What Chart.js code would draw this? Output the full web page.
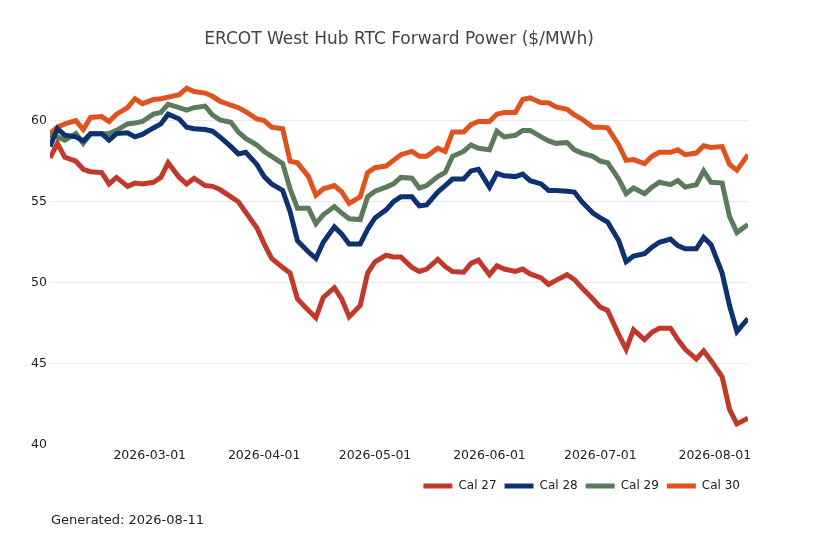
<!DOCTYPE html>
<html>
<head>
<meta charset="utf-8">
<script src="https://cdn.jsdelivr.net/npm/chart.js@4"></script>
<style>
    body { margin: 0; background: #fff; }
    #wrap { width: 818px; height: 545px; position: relative; }
</style>
</head>
<body>
<div id="wrap"><canvas id="forward-chart"></canvas></div>
<script>
// trading days (Mon / Wed / Fri)
var dates = [
    "2026-02-02", "2026-02-04", "2026-02-06", "2026-02-09", "2026-02-11", "2026-02-13",
    "2026-02-16", "2026-02-18", "2026-02-20", "2026-02-23", "2026-02-25", "2026-02-27",
    "2026-03-02", "2026-03-04", "2026-03-06", "2026-03-09", "2026-03-11", "2026-03-13",
    "2026-03-16", "2026-03-18", "2026-03-20", "2026-03-23", "2026-03-25", "2026-03-27",
    "2026-03-30", "2026-04-01", "2026-04-03", "2026-04-06", "2026-04-08", "2026-04-10",
    "2026-04-13", "2026-04-15", "2026-04-17", "2026-04-20", "2026-04-22", "2026-04-24",
    "2026-04-27", "2026-04-29", "2026-05-01", "2026-05-04", "2026-05-06", "2026-05-08",
    "2026-05-11", "2026-05-13", "2026-05-15", "2026-05-18", "2026-05-20", "2026-05-22",
    "2026-05-25", "2026-05-27", "2026-05-29", "2026-06-01", "2026-06-03", "2026-06-05",
    "2026-06-08", "2026-06-10", "2026-06-12", "2026-06-15", "2026-06-17", "2026-06-19",
    "2026-06-22", "2026-06-24", "2026-06-26", "2026-06-29", "2026-07-01", "2026-07-03",
    "2026-07-06", "2026-07-08", "2026-07-10", "2026-07-13", "2026-07-15", "2026-07-17",
    "2026-07-20", "2026-07-22", "2026-07-24", "2026-07-27", "2026-07-29", "2026-07-31",
    "2026-08-03", "2026-08-05", "2026-08-07", "2026-08-10"
];

var cal27 = [
    57.7, 58.6, 57.75, 57.5, 57.0, 56.85, 56.8, 56.1, 56.5, 55.95, 56.15, 56.1,
    56.2, 56.5, 57.4, 56.5, 56.1, 56.45, 56.0, 55.95, 55.75, 55.3, 55.0, 54.35,
    53.4, 52.4, 51.5, 50.95, 50.6, 49.0, 48.3, 47.85, 49.1, 49.7, 49.0, 47.9,
    48.6, 50.6, 51.3, 51.7, 51.6, 51.6, 50.95, 50.7, 50.85, 51.45, 51.0, 50.7,
    50.65, 51.2, 51.4, 50.5, 51.05, 50.85, 50.7, 50.85, 50.55, 50.3, 49.9, 50.15,
    50.5, 50.2, 49.7, 49.0, 48.5, 48.3, 46.8, 45.9, 47.1, 46.5, 46.95, 47.2,
    47.2, 46.5, 45.9, 45.3, 45.8, 45.2, 44.2, 42.2, 41.3, 41.65
];
var cal28 = [
    58.4, 59.5, 59.1, 59.0, 58.75, 59.2, 59.2, 58.8, 59.2, 59.25, 59.0, 59.15,
    59.55, 59.8, 60.4, 60.1, 59.6, 59.5, 59.45, 59.35, 59.0, 58.4, 57.95, 58.05,
    57.3, 56.55, 56.1, 55.7, 54.4, 52.6, 51.9, 51.5, 52.5, 53.45, 53.0, 52.4,
    52.4, 53.3, 54.0, 54.5, 55.0, 55.3, 55.3, 54.75, 54.8, 55.6, 56.0, 56.4,
    56.4, 56.9, 57.0, 55.9, 56.75, 56.6, 56.55, 56.7, 56.3, 56.1, 55.7, 55.7,
    55.65, 55.6, 55.0, 54.3, 54.0, 53.75, 52.6, 51.3, 51.65, 51.8, 52.2, 52.5,
    52.7, 52.3, 52.1, 52.1, 52.8, 52.35, 50.6, 48.6, 47.0, 47.8
];
var cal29 = [
    59.1, 59.0, 58.8, 59.2, 58.6, 59.2, 59.2, 59.2, 59.4, 59.8, 59.85, 59.95,
    60.4, 60.5, 61.0, 60.8, 60.65, 60.8, 60.9, 60.35, 60.05, 59.9, 59.3, 58.9,
    58.5, 58.1, 57.8, 57.35, 55.8, 54.6, 54.6, 53.65, 54.2, 54.7, 54.3, 53.95,
    53.9, 55.3, 55.65, 55.9, 56.1, 56.5, 56.45, 55.85, 56.0, 56.55, 56.8, 57.8,
    58.1, 58.5, 58.3, 58.2, 59.35, 59.0, 59.1, 59.4, 59.4, 59.0, 58.75, 58.6,
    58.65, 58.2, 58.0, 57.8, 57.5, 57.4, 56.4, 55.5, 55.85, 55.5, 55.9, 56.2,
    56.05, 56.3, 55.9, 56.05, 56.9, 56.2, 56.15, 54.1, 53.1, 53.6
];
var cal30 = [
    59.2, 59.6, 59.8, 60.0, 59.45, 60.2, 60.25, 59.95, 60.4, 60.8, 61.35, 61.05,
    61.3, 61.35, 61.45, 61.6, 62.0, 61.8, 61.7, 61.5, 61.2, 60.95, 60.8, 60.55,
    60.1, 60.0, 59.6, 59.5, 57.5, 57.4, 56.55, 55.4, 55.8, 56.0, 55.6, 54.9,
    55.3, 56.8, 57.1, 57.2, 57.55, 57.9, 58.1, 57.8, 57.8, 58.3, 58.1, 59.3,
    59.3, 59.75, 59.95, 59.95, 60.4, 60.5, 60.5, 61.3, 61.4, 61.1, 61.1, 60.85,
    60.7, 60.35, 60.1, 59.6, 59.6, 59.55, 58.5, 57.55, 57.6, 57.35, 57.8, 58.05,
    58.05, 58.2, 57.9, 58.0, 58.45, 58.35, 58.4, 57.3, 56.95, 57.9
];

var seriesNames = ["Cal 27", "Cal 28", "Cal 29", "Cal 30"];
var seriesColors = ["#c0392b", "#0c3271", "#5c7b5a", "#e0531f"];
var tickDates = ["2026-03-01", "2026-04-01", "2026-05-01", "2026-06-01", "2026-07-01", "2026-08-01"];
var chartTitle = "ERCOT West Hub RTC Forward Power ($/MWh)";
var footNote = "Generated: 2026-08-11";

function toPoints(values) {
    return values.map(function (v, i) {
        return { x: Date.parse(dates[i]), y: v };
    });
}

var notesPlugin = {
    id: 'notes',
    afterDraw: function (chart) {
        var ctx = chart.ctx;
        ctx.save();
        ctx.textBaseline = 'middle';
        ctx.fillStyle = '#444';
        ctx.font = '17px "DejaVu Sans"';
        ctx.textAlign = 'center';
        ctx.fillText(chartTitle, 399, 40);
        ctx.fillStyle = '#222';
        ctx.font = '13px "DejaVu Sans"';
        ctx.textAlign = 'left';
        ctx.fillText(footNote, 51, 521);
        ctx.restore();
    }
};

function buildChart() {
    Chart.defaults.font.family = '"DejaVu Sans", sans-serif';
    Chart.defaults.color = '#222';

    var allSeries = [cal27, cal28, cal29, cal30];
    var datasets = allSeries.map(function (values, i) {
        return {
            label: seriesNames[i],
            data: toPoints(values),
            borderColor: seriesColors[i],
            backgroundColor: seriesColors[i],
            borderWidth: 5,
            pointRadius: 0,
            tension: 0,
            fill: false
        };
    });

    var ctx = document.getElementById('forward-chart').getContext('2d');
    new Chart(ctx, {
        type: 'line',
        data: { datasets: datasets },
        plugins: [notesPlugin],
        options: {
            responsive: true,
            maintainAspectRatio: false,
            animation: false,
            layout: { padding: { top: 72, right: 70, bottom: 43, left: 0 } },
            scales: {
                x: {
                    type: 'linear',
                    min: Date.parse(dates[0]),
                    max: Date.parse(dates[dates.length - 1]),
                    grid: { display: false, drawTicks: false },
                    border: { display: false },
                    afterBuildTicks: function (scale) {
                        scale.ticks = tickDates.map(function (d) {
                            return { value: Date.parse(d) };
                        });
                    },
                    afterFit: function (scale) { scale.height = 27; },
                    ticks: {
                        autoSkip: false,
                        maxRotation: 0,
                        padding: 3,
                        font: { size: 12.5 },
                        callback: function (value) {
                            return new Date(value).toISOString().slice(0, 10);
                        }
                    }
                },
                y: {
                    min: 40,
                    max: 63,
                    afterFit: function (scale) { scale.width = 50; },
                    grid: {
                        drawTicks: false,
                        color: function (c) {
                            return c.tick && c.tick.value === 40 ? 'rgba(0,0,0,0)' : '#ebebeb';
                        }
                    },
                    border: { display: false },
                    ticks: {
                        stepSize: 5,
                        includeBounds: false,
                        padding: 3,
                        font: { size: 12.5 }
                    }
                }
            },
            plugins: {
                title: { display: false },
                tooltip: { enabled: false },
                legend: {
                    position: 'bottom',
                    align: 'end',
                    labels: {
                        boxWidth: 29,
                        boxHeight: 5,
                        padding: 8,
                        font: { size: 12 },
                        generateLabels: function (chart) {
                            var items = Chart.defaults.plugins.legend.labels.generateLabels(chart);
                            items.forEach(function (it) {
                                it.lineWidth = 0;
                                it.fillStyle = it.strokeStyle;
                            });
                            return items;
                        }
                    }
                }
            }
        }
    });
}

buildChart();
</script>
</body>
</html>
